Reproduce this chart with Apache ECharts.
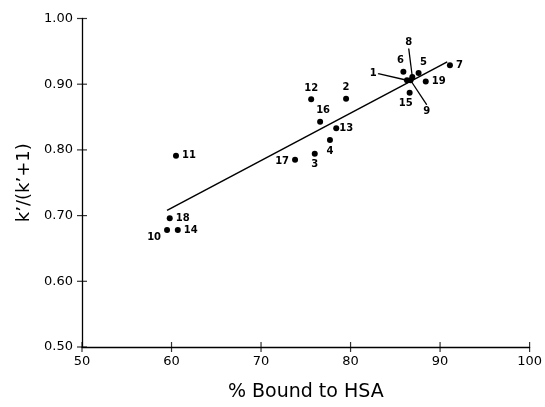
<!DOCTYPE html>
<html><head><meta charset="utf-8">
<script src="https://cdn.jsdelivr.net/npm/echarts@6/dist/echarts.min.js"></script>
<style>html,body{margin:0;padding:0;background:#fff}#c{width:545px;height:407px}</style>
</head><body><div id="c"></div>
<script>
// data
var pointLabels = ['1','2','3','4','5','6','7','8','9','10','11','12','13','14','15','16','17','18','19'];
var boundHSA   = [86.3,79.5,76.0,77.7,87.6,85.9,91.1,86.9,86.7,59.5,60.5,75.6,78.4,60.7,86.6,76.6,73.8,59.8,88.4];
var kRatio     = [0.906,0.878,0.794,0.815,0.917,0.919,0.929,0.911,0.906,0.678,0.791,0.877,0.833,0.678,0.887,0.843,0.785,0.696,0.904];
var fitX = [59.5, 90.8];
var fitY = [0.708, 0.934];
var xTicks = [50,60,70,80,90,100];
var yTicks = [0.50,0.60,0.70,0.80,0.90,1.00];
// displaced labels with leader lines: point label, label anchor (data units)
var leaderLabels = ['1','8','9'];
var leaderX = [83.1, 86.5, 88.5];
var leaderY = [0.916, 0.954, 0.869];

// label placement (style)
var labelPos = {
  '2':{pos:'top'}, '3':{pos:'bottom'}, '4':{pos:'bottom'}, '5':{pos:'top',dx:5},
  '6':{pos:'top',dx:-3}, '7':{pos:'right'}, '10':{pos:'left',dy:7}, '11':{pos:'right'},
  '12':{pos:'top'}, '13':{pos:'right',dx:-3}, '14':{pos:'right'}, '15':{pos:'bottom',dx:-4},
  '16':{pos:'top',dx:3}, '17':{pos:'left',dy:2}, '18':{pos:'right'}, '19':{pos:'right'}
};
var leaderPos = {'1':'left','8':'top','9':'bottom'};

var font = 'DejaVu Sans';
var lblStyle = {fontSize:10, fontWeight:'bold', color:'#000', fontFamily:font, distance:3, opacity:1};
var pts = pointLabels.map(function(l,i){
  var p = labelPos[l];
  var d = {value:[boundHSA[i],kRatio[i]], name:l, label:{show:!!p}};
  if (p) {
    d.label = Object.assign({show:true, position:p.pos, formatter:l}, lblStyle);
    if (p.dx || p.dy) d.label.offset = [p.dx||0, p.dy||0];
  }
  return d;
});

var tickLen = 5;
var series = [{
  type:'line', data:fitX.map(function(x,i){return [x,fitY[i]];}),
  symbol:'none', lineStyle:{color:'#000', width:1.5}, z:2, silent:true
}];
leaderLabels.forEach(function(l,j){
  var i = pointLabels.indexOf(l);
  series.push({
    type:'line', symbol:'none', z:2, silent:true,
    lineStyle:{color:'#000', width:1.3},
    data:[[boundHSA[i],kRatio[i]],[leaderX[j],leaderY[j]]]
  });
  series.push({
    type:'scatter', symbol:'circle', symbolSize:1, silent:true, z:4,
    itemStyle:{color:'#000'},
    data:[{value:[leaderX[j],leaderY[j]], label:Object.assign({show:true, position:leaderPos[l], formatter:l}, lblStyle, {distance:1})}]
  });
});
series.push({
  type:'scatter', data:pts, symbol:'circle', symbolSize:6,
  itemStyle:{color:'#000', opacity:1}, z:3
});
// crossing tick marks placed through the axis scales
xTicks.forEach(function(v){
  series.push({
    type:'scatter', silent:true, z:5, symbol:'rect', symbolSize:[1.2, tickLen*2],
    itemStyle:{color:'#000'}, data:[[v, yTicks[0]]], clip:false
  });
});
yTicks.forEach(function(v){
  series.push({
    type:'scatter', silent:true, z:5, symbol:'rect', symbolSize:[tickLen*2, 1.2],
    itemStyle:{color:'#000'}, data:[[xTicks[0], v]], clip:false
  });
});

var chart = echarts.init(document.getElementById('c'), null, {renderer:'canvas'});
chart.setOption({
  animation:false,
  backgroundColor:'#fff',
  grid:{left:82, right:10, top:18.5, bottom:60},
  xAxis:{
    type:'value', min:xTicks[0], max:xTicks[xTicks.length-1], interval:10,
    axisLine:{show:true, lineStyle:{color:'#000', width:1.3}}, splitLine:{show:false},
    axisTick:{show:false},
    axisLabel:{fontSize:13, color:'#000', fontFamily:font, margin:8},
    name:'% Bound to HSA', nameLocation:'middle', nameGap:36,
    nameTextStyle:{fontSize:19, color:'#000', fontFamily:font}
  },
  yAxis:{
    type:'value', min:yTicks[0], max:yTicks[yTicks.length-1], interval:0.1,
    axisLine:{show:true, lineStyle:{color:'#000', width:1.3}}, splitLine:{show:false},
    axisTick:{show:false},
    axisLabel:{fontSize:13, color:'#000', fontFamily:font, margin:9, formatter:function(v){return v.toFixed(2);}},
    name:'k\u2019/(k\u2019+1)', nameLocation:'middle', nameGap:48,
    nameTextStyle:{fontSize:18, color:'#000', fontFamily:font}
  },
  series:series
});
</script></body></html>
